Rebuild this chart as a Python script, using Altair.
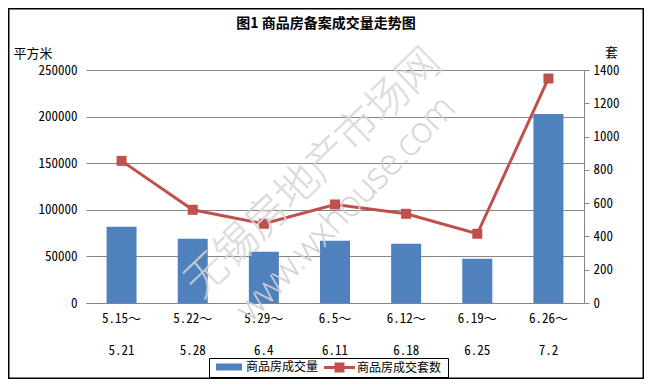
import altair as alt
import pandas as pd

# ---- data ----
CATS = ["5.15～|5.21", "5.22～|5.28", "5.29～|6.4", "6.5～|6.11",
        "6.12～|6.18", "6.19～|6.25", "6.26～|7.2"]
AREA = [81800, 68900, 55000, 66800, 63500, 47500, 202900]      # 商品房成交量 (平方米)
UNITS = [854, 560, 476, 592, 536, 416, 1349]                    # 商品房成交套数 (套)
LEFT_TICKS = [0, 50000, 100000, 150000, 200000, 250000]
RIGHT_TICKS = [0, 200, 400, 600, 800, 1000, 1200, 1400]
TITLE = "图1 商品房备案成交量走势图"
S1 = "商品房成交量"
S2 = "商品房成交套数"
WM1 = "无锡房地产市场网"
WM2 = "www.wxhouse.com"

df = pd.DataFrame({"cat": CATS, "area": AREA, "units": UNITS,
                   "s1": [S1] * len(CATS), "s2": [S2] * len(CATS)})
one = pd.DataFrame({"k": [0]})

CJK = "Noto Sans CJK SC"
MONO = "Noto Sans Mono CJK SC, Noto Sans CJK SC, DejaVu Sans Mono"
BLUE = "#4f81bd"
RED = "#c0504d"
GRID = "#868686"

x = alt.X("cat:N", sort=CATS, title=None,
          scale=alt.Scale(paddingInner=0.58, paddingOuter=0.29),
          axis=alt.Axis(labelExpr="split(datum.label, '|')", labelAngle=0,
                        labelFont=MONO, labelFontSize=13, labelColor="black",
                        labelLineHeight=32, labelPadding=9, labelBaseline="top",
                        ticks=False, domainColor=GRID, domainWidth=1, grid=False))

bars = alt.Chart(df).mark_bar(size=30).encode(
    x=x,
    y=alt.Y("area:Q", title="平方米",
            scale=alt.Scale(domain=[0, 250000], nice=False),
            axis=alt.Axis(values=LEFT_TICKS, format="d", grid=True, gridColor=GRID,
                          gridWidth=1, domain=False, ticks=False, labelPadding=9,
                          labelFont=MONO, labelFontSize=13, labelColor="black",
                          titleAngle=0, titleX=-73, titleY=-17, titleAlign="left",
                          titleBaseline="middle", titleFont=CJK, titleFontSize=13,
                          titleFontWeight="normal", titleColor="black")),
    color=alt.Color("s1:N", scale=alt.Scale(domain=[S1], range=[BLUE]),
                    legend=alt.Legend(title=None, orient="none", legendX=130, legendY=284,
                                      symbolType="M-1,-0.27H1V0.27H-1Z", symbolSize=676,
                                      symbolStrokeWidth=0, labelOffset=4, padding=0,
                                      labelFont=CJK, labelFontSize=12, labelColor="black")),
)

yr = alt.Y("units:Q", title="套",
           scale=alt.Scale(domain=[0, 1400], nice=False),
           axis=alt.Axis(orient="right", values=RIGHT_TICKS, format="d", grid=False,
                         domainColor=GRID, tickColor=GRID, tickSize=5, labelPadding=4,
                         labelFont=MONO, labelFontSize=13, labelColor="black",
                         titleAngle=0, titleX=27, titleY=-18, titleAlign="center",
                         titleBaseline="middle", titleFont=CJK, titleFontSize=13,
                         titleFontWeight="normal", titleColor="black"))

line = alt.Chart(df).mark_line(color=RED, strokeWidth=3).encode(x=x, y=yr)
pts = alt.Chart(df).mark_point(shape="square", size=100, filled=True, opacity=1).encode(
    x=x, y=yr,
    fill=alt.Fill("s2:N", scale=alt.Scale(domain=[S2], range=[RED]),
                  legend=alt.Legend(title=None, orient="none", legendX=238, legendY=282,
                                    symbolType="M-1,-0.1H1V0.1H-1Z M-0.32,-0.32H0.32V0.32H-0.32Z",
                                    symbolSize=961, symbolStrokeWidth=0, labelOffset=2,
                                    padding=0, labelFont=CJK, labelFontSize=12,
                                    labelColor="black")),
)

right = alt.layer(line, pts)

title = alt.Chart(one).mark_text(text=TITLE, font=CJK, fontSize=14, fontWeight="bold",
                                 color="black", align="center", baseline="middle").encode(
    x=alt.value(240), y=alt.value(-46))

wm1 = alt.Chart(one).mark_text(text=WM1, font=CJK, fontSize=42, fontWeight=100, angle=316,
                               fill="white", fillOpacity=0.6, stroke="#cccccc",
                               strokeWidth=0.8, strokeOpacity=0.9,
                               align="center", baseline="middle").encode(
    x=alt.value(227), y=alt.value(103))
wm2 = alt.Chart(one).mark_text(text=WM2, font="Noto Sans", fontSize=36, fontWeight=100,
                               angle=314, fill="white", fillOpacity=0.6, stroke="#cccccc",
                               strokeWidth=0.8, strokeOpacity=0.9,
                               align="center", baseline="middle").encode(
    x=alt.value(260), y=alt.value(139))

legend_box = alt.Chart(one).mark_rect(fill="transparent", stroke="black", strokeWidth=1).encode(
    x=alt.value(123.5), x2=alt.value(362.5), y=alt.value(288.5), y2=alt.value(307.5))
frame = alt.Chart(one).mark_rect(fill="transparent", stroke="black", strokeWidth=1.5).encode(
    x=alt.value(-77.25), x2=alt.value(557.25), y=alt.value(-61.25), y2=alt.value(308.25))

chart = alt.layer(bars, right, wm1, wm2, title, legend_box, frame).resolve_scale(
    y="independent", color="independent", fill="independent"
).resolve_legend(color="independent", fill="independent").properties(
    width=498, height=233,
    autosize=alt.AutoSizeParams(type="none"),
    padding={"left": 78, "top": 62, "right": 60, "bottom": 76},
    background="white",
).configure_view(stroke=None)

chart.save("out.html", embed_options={"renderer": "svg", "actions": False})
